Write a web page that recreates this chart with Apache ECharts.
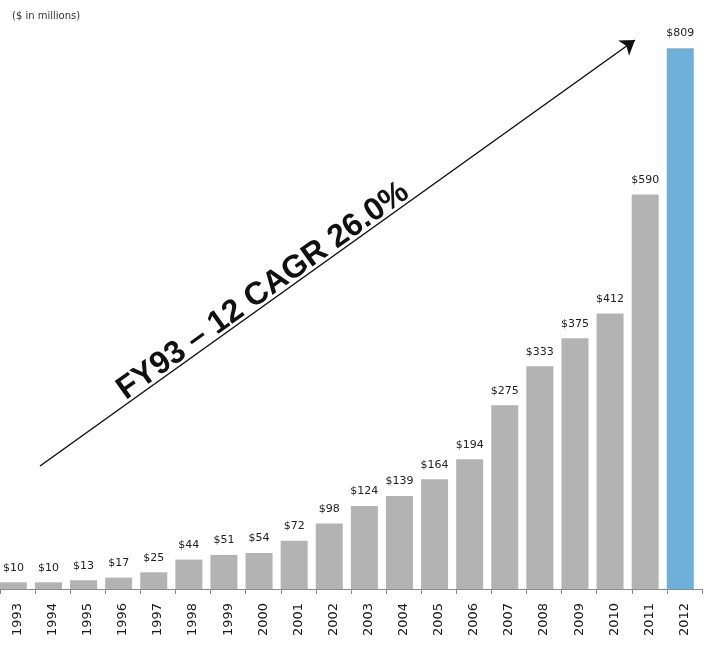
<!DOCTYPE html>
<html>
<head>
<meta charset="utf-8">
<script src="https://cdn.jsdelivr.net/npm/echarts@6/dist/echarts.min.js"></script>
<style>
  html, body { margin: 0; padding: 0; background: #fff; }
  #chart { width: 715px; height: 654px; }
</style>
</head>
<body>
<div id="chart"></div>
<script>
// Fiscal years and revenue ($ in millions)
const years = ['1993','1994','1995','1996','1997','1998','1999','2000','2001','2002',
               '2003','2004','2005','2006','2007','2008','2009','2010','2011','2012'];
const revenue = [10, 10, 13, 17, 25, 44, 51, 54, 72, 98,
                 124, 139, 164, 194, 275, 333, 375, 412, 590, 809];
const highlightYear = '2012';

const grayBar = '#b3b3b3';
const blueBar = '#6fb0d9';

const chart = echarts.init(document.getElementById('chart'));

chart.setOption({
  animation: false,
  backgroundColor: '#ffffff',
  grid: { left: -3, right: 13, top: 0, bottom: 65, containLabel: false },
  xAxis: {
    type: 'category',
    data: years,
    axisLine: { lineStyle: { color: '#8c8c8c', width: 1 } },
    axisTick: { show: true, alignWithLabel: false, length: 5, lineStyle: { color: '#8c8c8c' } },
    axisLabel: {
      rotate: 90,
      margin: 14,
      color: '#1a1a1a',
      fontFamily: 'DejaVu Sans',
      fontSize: 13
    }
  },
  yAxis: {
    type: 'value',
    min: 0,
    max: 881,
    show: false,
    splitLine: { show: false }
  },
  graphic: [
    {
      type: 'text',
      left: 12,
      top: 11,
      style: {
        text: '($ in millions)',
        fill: '#333',
        font: '10px "DejaVu Sans"'
      }
    },
    {
      type: 'text',
      x: 263,
      y: 291,
      rotation: 35.6 * Math.PI / 180,
      style: {
        text: 'FY93 – 12 CAGR 26.0%',
        fill: '#111',
        font: 'bold 32px "Liberation Sans"',
        align: 'center',
        verticalAlign: 'middle'
      }
    }
  ],
  series: [
    {
      name: 'Revenue',
      type: 'bar',
      data: revenue.map((v, i) => ({
        value: v,
        itemStyle: { color: years[i] === highlightYear ? blueBar : grayBar }
      })),
      barWidth: 27,
      barGap: '-69%',
      label: {
        show: true,
        position: 'top',
        distance: 9,
        formatter: p => '$' + p.value,
        color: '#222',
        fontFamily: 'DejaVu Sans',
        fontSize: 11
      },
      markLine: {
        silent: true,
        symbol: ['none', 'arrow'],
        symbolSize: 14,
        label: { show: false },
        lineStyle: { color: '#111', width: 1.5, type: 'solid' },
        data: [[{ x: 40, y: 466 }, { x: 635, y: 40 }]]
      }
    },
    {
      // empty companion series: keeps each bar on the left side of its slot
      name: 'slot',
      type: 'bar',
      data: [],
      barWidth: 27
    }
  ]
});
</script>
</body>
</html>
